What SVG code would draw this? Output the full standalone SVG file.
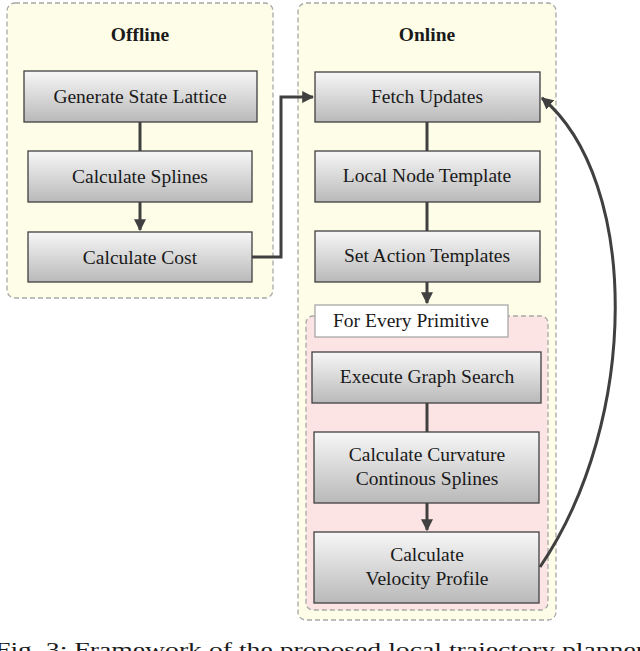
<svg xmlns="http://www.w3.org/2000/svg" width="640" height="651" viewBox="0 0 640 651">
<defs>
<linearGradient id="g" x1="0" y1="0" x2="0" y2="1"><stop offset="0" stop-color="#f7f7f7"/><stop offset="1" stop-color="#b9b9b9"/></linearGradient>
<marker id="a" viewBox="0 0 10 10" refX="9" refY="5" markerWidth="4" markerHeight="4" orient="auto"><path d="M0,0 L10,5 L0,10 z" fill="#404040"/></marker>
</defs>
<style>
.panel{fill:#fdfde8;stroke:#a8a8a8;stroke-width:1.3;stroke-dasharray:5,3}
.pink{fill:#fde4e4;stroke:#a8a8a8;stroke-width:1.3;stroke-dasharray:5,3}
.box{fill:url(#g);stroke:#404040;stroke-width:1.3}
text{font-family:"Liberation Serif",serif;font-size:19.5px;fill:#1a1a1a;text-anchor:middle}
.c{fill:none;stroke:#404040;stroke-width:3}
</style>
<rect width="640" height="651" fill="#fff"/>
<g id="offline"><rect class="panel" x="7" y="3" width="266" height="295" rx="8"/><text x="140" y="41" font-weight="bold">Offline</text></g>
<g id="online"><rect class="panel" x="298" y="3" width="258" height="617" rx="8"/><text x="427" y="41" font-weight="bold">Online</text></g>
<g id="primitive"><rect class="pink" x="306" y="316" width="242" height="294" rx="7"/><rect x="315" y="305" width="193" height="32" fill="#fff" stroke="#a8a8a8" stroke-width="1.3"/><text x="411" y="327">For Every Primitive</text></g>
<g id="connectors">
<path class="c" d="M140,122 V151"/>
<path class="c" d="M140,202 V230" marker-end="url(#a)"/>
<path class="c" d="M252,257 H281 V97 H313" marker-end="url(#a)"/>
<path class="c" d="M427,122 V151"/>
<path class="c" d="M427,202 V231"/>
<path class="c" d="M427,282 V303" marker-end="url(#a)"/>
<path class="c" d="M427,403 V432"/>
<path class="c" d="M427,503 V530" marker-end="url(#a)"/>
<path class="c" d="M540,567 C640,420 640,180 542,98" marker-end="url(#a)"/>
</g>
<g id="n1"><rect class="box" x="24" y="71" width="233" height="51"/><text x="140" y="103">Generate State Lattice</text></g>
<g id="n2"><rect class="box" x="28" y="151" width="224" height="51"/><text x="140" y="183">Calculate Splines</text></g>
<g id="n3"><rect class="box" x="28" y="232" width="224" height="50"/><text x="140" y="264">Calculate Cost</text></g>
<g id="n4"><rect class="box" x="315" y="72" width="225" height="50"/><text x="427" y="103">Fetch Updates</text></g>
<g id="n5"><rect class="box" x="315" y="151" width="225" height="51"/><text x="427" y="182">Local Node Template</text></g>
<g id="n6"><rect class="box" x="315" y="231" width="225" height="51"/><text x="427" y="262">Set Action Templates</text></g>
<g id="n7"><rect class="box" x="312" y="352" width="229" height="51"/><text x="427" y="383">Execute Graph Search</text></g>
<g id="n8"><rect class="box" x="314" y="432" width="225" height="71"/><text x="427" y="461">Calculate Curvature</text><text x="427" y="485">Continous Splines</text></g>
<g id="n9"><rect class="box" x="314" y="532" width="225" height="71"/><text x="427" y="561">Calculate</text><text x="427" y="585">Velocity Profile</text></g>
<text x="320" y="656" font-size="22" textLength="650" lengthAdjust="spacingAndGlyphs">Fig. 3: Framework of the proposed local trajectory planner</text>
</svg>
